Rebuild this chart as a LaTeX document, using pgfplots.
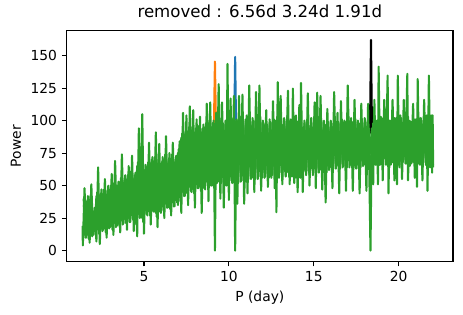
\documentclass[border=0pt]{standalone}
\usepackage{fontspec}
\setmainfont{DejaVu Sans}
\usepackage{pgfplots}
\pgfplotsset{compat=1.18}
\definecolor{mplblue}{HTML}{1F77B4}
\definecolor{mplorange}{HTML}{FF7F0E}
\definecolor{mplgreen}{HTML}{2CA02C}
\begin{document}
\begin{tikzpicture}
\begin{axis}[name=ax, scale only axis, width=3.863in, height=2.31in,
  xmin=0.45, xmax=23.2, ymin=-8.5, ymax=169.2,
  xtick={5,10,15,20}, ytick={0,25,50,75,100,125,150},
  tick align=outside, tick pos=left, major tick length=3.5pt,
  axis line style={line width=0.8pt}, every tick/.style={black, line width=0.8pt},
  /pgf/number format/assume math mode=true,
  tick label style={font=\fontsize{10}{12}\selectfont},
  xlabel={P (day)}, ylabel={Power},
  label style={font=\fontsize{10}{12}\selectfont},
  title={removed : 6.56d 3.24d 1.91d},
  title style={font=\fontsize{12}{14}\selectfont},
  every axis plot/.append style={line width=1.5pt, line join=round},
]
\addplot[mplorange, mark=none] coordinates {(9.12,95) (9.18,145.4) (9.24,95)};
\addplot[mplblue, mark=none] coordinates {(10.32,100) (10.37,149) (10.42,100)};
\addplot[black, mark=none] coordinates {(18.31,90) (18.37,162) (18.43,90)};
\addplot[mplgreen, mark=none] coordinates {
(1.39,19) (1.4,4) (1.5,48) (1.6,10) (1.7,42) (1.8,6) (1.9,51) (2.0,12) (2.1,33) (2.2,7) (2.3,64) (2.4,5)
(2.5,47) (2.6,16) (2.7,55) (2.8,10) (2.9,50) (3.0,18) (3.1,59) (3.2,12) (3.3,69) (3.4,19) (3.5,53) (3.6,14)
(3.7,74) (3.8,21) (3.9,58) (4.0,16) (4.1,65) (4.2,22) (4.3,73) (4.4,15) (4.5,60)
(4.6,11) (4.7,94) (4.8,26) (4.9,105) (5.0,13) (5.1,66) (5.2,27) (5.3,83) (5.4,20) (5.5,72) (5.6,30) (5.7,91)
(5.8,18) (5.9,82) (6.0,29) (6.1,72) (6.2,25) (6.3,88) (6.4,33) (6.5,75) (6.6,27) (6.7,83) (6.8,34) (6.9,73)
(7.0,35) (7.1,84) (7.2,29) (7.3,106) (7.4,42) (7.5,104) (7.6,35) (7.7,111) (7.8,45) (7.9,108) (8.0,33)
(8.1,101) (8.2,48) (8.3,103) (8.4,29) (8.5,97) (8.6,47) (8.7,113) (8.8,38) (8.9,114) (9.0,50) (9.1,100)
(9.18,0) (9.25,106) (9.3,52) (9.4,128) (9.5,40) (9.6,114) (9.7,33) (9.8,100) (9.86,50) (9.92,143.6)
(10.0,39) (10.1,117) (10.2,52) (10.3,119) (10.37,0) (10.45,100) (10.5,36) (10.6,119) (10.7,53) (10.8,120)
(10.9,36) (11.0,100) (11.1,44) (11.2,127) (11.3,55) (11.4,102) (11.5,45) (11.6,122) (11.7,55) (11.8,127)
(11.9,46) (12.0,100) (12.1,56) (12.2,108) (12.3,49) (12.4,101) (12.5,56) (12.6,115) (12.7,48) (12.75,100)
(12.8,29.5) (12.88,129.5) (12.95,56) (13.05,119) (13.15,51) (13.25,102) (13.35,57) (13.48,123) (13.58,51)
(13.65,100) (13.72,57) (13.77,124.6) (13.85,52) (13.95,104) (14.05,45) (14.15,112) (14.2,56) (14.25,129)
(14.35,45) (14.45,100) (14.55,58) (14.65,121) (14.75,50) (14.85,102) (14.95,58) (15.05,114) (15.12,48)
(15.2,121.5) (15.3,60) (15.4,119) (15.5,47) (15.6,100) (15.7,37) (15.8,109) (15.9,62) (16.0,100) (16.1,48)
(16.2,122) (16.3,63) (16.4,106) (16.5,44) (16.6,115) (16.7,64) (16.8,100) (16.9,46) (17.0,127) (17.1,64)
(17.2,102) (17.3,46) (17.4,116) (17.5,63) (17.6,100) (17.7,44) (17.8,113) (17.9,65) (18.0,102) (18.1,46)
(18.2,113) (18.27,62) (18.34,0) (18.42,94) (18.5,51) (18.57,116) (18.65,66) (18.72,100) (18.78,51)
(18.82,141.5) (18.9,66) (19.0,102) (19.06,54) (19.15,116) (19.25,66) (19.35,134.6) (19.4,44) (19.47,100)
(19.54,66) (19.64,116) (19.75,54) (19.85,102) (19.9,51) (19.95,134.6) (20.02,66) (20.1,104) (20.2,55)
(20.3,116) (20.4,67) (20.51,136) (20.55,54) (20.65,100) (20.75,67) (20.85,113) (20.95,56) (21.03,101)
(21.08,49) (21.12,132) (21.2,67) (21.3,102) (21.4,54) (21.5,116) (21.6,66) (21.65,104) (21.7,46)
(21.78,134.6) (21.85,66) (21.92,104) (21.97,60) (22.0,104) (22.03,64)
};
\addplot[mplgreen, mark=none] coordinates {
(1.45,40) (1.55,10) (1.65,38) (1.75,9) (1.85,42) (1.95,11) (2.05,30) (2.15,12) (2.25,45) (2.35,13)
(2.45,44) (2.55,15) (2.65,47) (2.75,14) (2.85,46) (2.95,17) (3.05,50) (3.15,16) (3.25,52) (3.35,18)
(3.45,50) (3.55,19) (3.65,56) (3.75,20) (3.85,54) (3.95,21) (4.05,58) (4.15,22) (4.25,61) (4.35,24)
(4.45,58) (4.55,20) (4.65,68) (4.75,25) (4.85,70) (4.95,22) (5.05,62) (5.15,28) (5.25,68) (5.35,27)
(5.45,70) (5.55,30) (5.65,72) (5.75,26) (5.85,70) (5.95,30) (6.05,68) (6.15,31) (6.25,74) (6.35,33)
(6.45,70) (6.55,32) (6.65,74) (6.75,34) (6.85,70) (6.95,37) (7.05,78) (7.15,38) (7.25,90) (7.35,42)
(7.45,92) (7.55,44) (7.65,95) (7.75,46) (7.85,95) (7.95,44) (8.05,94) (8.15,48) (8.25,96) (8.35,46)
(8.45,94) (8.55,48) (8.65,98) (8.75,50) (8.85,100) (8.95,50) (9.05,98) (9.15,52) (9.25,100) (9.35,53)
(9.45,102) (9.55,52) (9.65,98) (9.75,50) (9.85,100) (9.95,53) (10.05,102) (10.15,54) (10.25,100) (10.35,53)
(10.45,101) (10.55,52) (10.65,103) (10.75,54) (10.85,101) (10.95,53) (11.05,104) (11.15,55) (11.25,103) (11.35,56)
(11.45,100) (11.55,55) (11.65,104) (11.75,57) (11.85,103) (11.95,56) (12.05,98) (12.15,57) (12.25,97) (12.35,56)
(12.45,99) (12.55,58) (12.65,101) (12.75,55) (12.85,103) (12.95,58) (13.05,104) (13.15,57) (13.25,100) (13.35,58)
(13.45,104) (13.55,57) (13.65,101) (13.75,58) (13.85,103) (13.95,56) (14.05,99) (14.15,57) (14.25,104) (14.35,56)
(14.45,98) (14.55,59) (14.65,103) (14.75,58) (14.85,99) (14.95,60) (15.05,101) (15.15,60) (15.25,103) (15.35,62)
(15.45,100) (15.55,61) (15.65,97) (15.75,60) (15.85,99) (15.95,64) (16.05,98) (16.15,63) (16.25,103) (16.35,65)
(16.45,99) (16.55,63) (16.65,101) (16.75,65) (16.85,99) (16.95,64) (17.05,103) (17.15,66) (17.25,99) (17.35,64)
(17.45,101) (17.55,66) (17.65,98) (17.75,64) (17.85,100) (17.95,66) (18.05,99) (18.15,65) (18.25,94) (18.45,66)
(18.55,101) (18.65,67) (18.75,100) (18.85,66) (18.95,103) (19.05,67) (19.15,100) (19.25,68) (19.35,102) (19.45,64)
(19.55,100) (19.65,68) (19.75,102) (19.85,66) (19.95,100) (20.05,64) (20.15,102) (20.25,68) (20.35,100) (20.45,67)
(20.55,103) (20.65,65) (20.75,99) (20.85,68) (20.95,101) (21.05,67) (21.15,103) (21.25,66) (21.35,100) (21.45,68)
(21.55,102) (21.65,67) (21.75,100) (21.85,64) (21.95,102) (22.02,66)
};
\addplot[mplgreen, mark=none] coordinates {
(1.5,13) (1.6,35) (1.7,12) (1.8,39) (1.9,14) (2.0,28) (2.1,15) (2.2,42) (2.3,16) (2.4,41) (2.5,18) (2.6,44)
(2.7,17) (2.8,43) (2.9,20) (3.0,47) (3.1,19) (3.2,49) (3.3,21) (3.4,47) (3.5,22) (3.6,53) (3.7,23) (3.8,51)
(3.9,24) (4.0,55) (4.1,25) (4.2,58) (4.3,27) (4.4,55) (4.5,23) (4.6,65) (4.7,28) (4.8,67) (4.9,25) (5.0,59)
(5.1,31) (5.2,65) (5.3,30) (5.4,67) (5.5,33) (5.6,69) (5.7,29) (5.8,67) (5.9,33) (6.0,65) (6.1,34) (6.2,71)
(6.3,36) (6.4,67) (6.5,35) (6.6,71) (6.7,37) (6.8,67) (6.9,40) (7.0,75) (7.1,41) (7.2,87) (7.3,45) (7.4,89)
(7.5,47) (7.6,92) (7.7,49) (7.8,92) (7.9,47) (8.0,91) (8.1,51) (8.2,93) (8.3,49) (8.4,91) (8.5,51) (8.6,95)
(8.7,53) (8.8,97) (8.9,53) (9.0,95) (9.1,55) (9.2,97) (9.3,56) (9.4,99) (9.5,55) (9.6,95) (9.7,53) (9.8,97)
(9.9,56) (10.0,99) (10.1,57) (10.2,97) (10.3,56) (10.4,98) (10.5,55) (10.6,100) (10.7,57) (10.8,98) (10.9,56)
(11.0,101) (11.1,58) (11.2,100) (11.3,59) (11.4,97) (11.5,58) (11.6,101) (11.7,60) (11.8,100) (11.9,59)
(12.0,95) (12.1,60) (12.2,94) (12.3,59) (12.4,96) (12.5,61) (12.6,98) (12.7,58) (12.8,100) (12.9,61)
(13.0,101) (13.1,60) (13.2,97) (13.3,61) (13.4,101) (13.5,60) (13.6,98) (13.7,61) (13.8,100) (13.9,59)
(14.0,96) (14.1,60) (14.2,101) (14.3,59) (14.4,95) (14.5,62) (14.6,100) (14.7,61) (14.8,96) (14.9,63)
(15.0,98) (15.1,63) (15.2,100) (15.3,65) (15.4,97) (15.5,64) (15.6,94) (15.7,63) (15.8,96) (15.9,67)
(16.0,95) (16.1,66) (16.2,100) (16.3,68) (16.4,96) (16.5,66) (16.6,98) (16.7,68) (16.8,96) (16.9,67)
(17.0,100) (17.1,69) (17.2,96) (17.3,67) (17.4,98) (17.5,69) (17.6,95) (17.7,67) (17.8,97) (17.9,69)
(18.0,96) (18.1,68) (18.2,92) (18.45,69) (18.5,98) (18.6,70) (18.7,97) (18.8,69) (18.9,100) (19.0,70)
(19.1,97) (19.2,71) (19.3,99) (19.4,67) (19.5,97) (19.6,71) (19.7,99) (19.8,69) (19.9,97) (20.0,67)
(20.1,99) (20.2,71) (20.3,97) (20.4,70) (20.5,100) (20.6,68) (20.7,96) (20.8,71) (20.9,98) (21.0,70)
(21.1,100) (21.2,69) (21.3,97) (21.4,71) (21.5,99) (21.6,70) (21.7,97) (21.8,67) (21.9,99) (22.0,69)
};
\end{axis}
\path ([xshift=-0.667in,yshift=-0.53in]ax.south west) rectangle ([xshift=0.10in,yshift=0.30in]ax.north east);
\end{tikzpicture}
\end{document}
